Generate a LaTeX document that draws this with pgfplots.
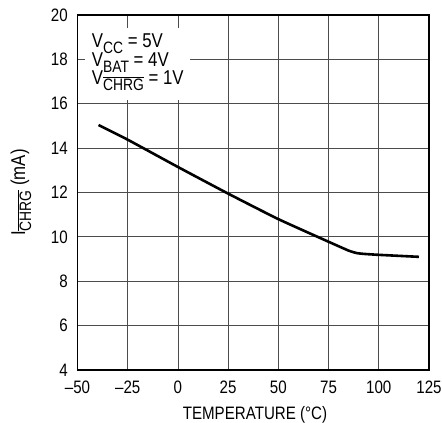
\documentclass[border=0pt]{standalone}
\usepackage{fontspec}
\setmainfont{Liberation Sans}[FakeStretch=0.84]
\usepackage{pgfplots}
\pgfplotsset{compat=1.18}
\usetikzlibrary{calc}
\newcommand\fs{\fontsize{18}{20}\selectfont}
\newcommand\fl{\fontsize{20}{22}\selectfont}
\newcommand\ovl[1]{\ensuremath{\overline{\hbox{#1}}}}
\newcommand\sub[1]{\raisebox{-0.3em}{\fontsize{16.5}{16.5}\selectfont #1}}
\begin{document}
\fs
\begin{tikzpicture}
\begin{axis}[
 scale only axis, width=351.5pt, height=355pt,
 xmin=-50, xmax=125, ymin=4, ymax=20,
 xtick={-50,-25,...,125}, xticklabels={–50,–25,0,25,50,75,100,125},
 ytick={4,6,...,20},
 /pgf/number format/assume math mode=true,
 grid=major, grid style={black!70, line width=0.8pt},
 axis line style={line width=1.2pt},
 tick align=inside, major tick length=7.5pt, tick style={black!70, line width=0.8pt},
 xticklabel style={font=\fs, anchor=north, inner sep=0pt, yshift=-11pt},
 yticklabel style={font=\fs, anchor=east, inner sep=0pt, xshift=-9.5pt},
 xlabel={TEMPERATURE (°C)},
 xlabel style={font=\fs, at={(axis description cs:0.505,-0.125)}, anchor=center},
 ylabel={I\sub{\ovl{CHRG}} (mA)},
 ylabel style={font=\fl, at={(axis description cs:-0.1607,0.5)}, anchor=center, rotate=0},
]
\fill[white] (axis cs:-46.27,19.414) rectangle (axis cs:6.01,16.17);
\node[font=\fl, anchor=base west, inner sep=0pt] at (axis cs:-42.93,18.526) {V\sub{CC} = 5V};
\node[font=\fl, anchor=base west, inner sep=0pt] at (axis cs:-42.93,17.70) {V\sub{BAT} = 4V};
\node[font=\fl, anchor=base west, inner sep=0pt] at (axis cs:-42.93,16.877) {V\sub{\ovl{CHRG}} = 1V};
\addplot[black, line width=2.6pt, smooth, tension=0.3] coordinates {
(-39.5,15.04) (-25,14.38) (0,13.15) (25,11.95) (50,10.8) (75,9.78) (85,9.38) (89,9.27) (93,9.23) (100,9.19) (120,9.1)
};
\end{axis}
\pgfresetboundingbox
\path ($(current axis.south west)+(-77.5pt,-53pt)$) rectangle ($(current axis.north east)+(13pt,15pt)$);
\end{tikzpicture}
\end{document}
